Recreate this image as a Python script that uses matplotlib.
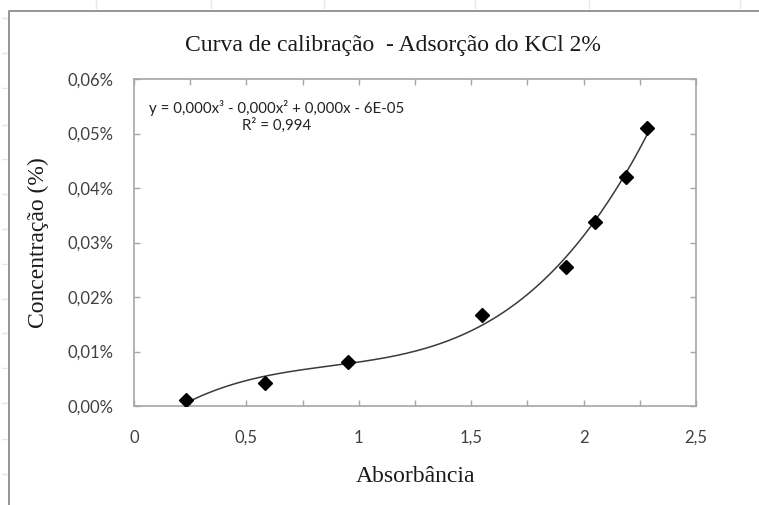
import numpy as np
import matplotlib.pyplot as plt
from matplotlib.lines import Line2D
from matplotlib.ticker import FuncFormatter, MultipleLocator

# absorbance readings and KCl concentration (%)
absorbancia = [0.231, 0.583, 0.952, 1.548, 1.922, 2.050, 2.190, 2.280]
concentracao = [0.0011, 0.0042, 0.0081, 0.0167, 0.0255, 0.0338, 0.0420, 0.0510]

titulo = 'Curva de calibração  - Adsorção do KCl 2%'
eq_texto = 'y = 0,000x³ - 0,000x² + 0,000x - 6E-05\nR² = 0,994'

W, H = 759, 505
fig = plt.figure(figsize=(W / 100, H / 100), dpi=100)
fig.patch.set_facecolor('white')

# faint spreadsheet marks behind the chart object
for xp in [96, 211, 324, 475, 589, 740]:
    fig.add_artist(Line2D([xp / W, xp / W], [1, 1 - 8 / H], color='#e6e6e6', lw=1))
for yp in [18, 53, 88, 125, 159, 194, 229, 264, 299, 333, 368, 403, 439, 474]:
    fig.add_artist(Line2D([2 / W, 7 / W], [1 - yp / H, 1 - yp / H], color='#e6e6e6', lw=1))

# chart area border (only top and left visible)
fig.add_artist(Line2D([9 / W, 9 / W, 1], [0, 1 - 11 / H, 1 - 11 / H], color='#8c8c8c', lw=1.3))

ax = fig.add_axes([134 / W, 1 - 406 / H, (696 - 134) / W, (406 - 79) / H])

# cubic trendline like Excel
coef = np.polyfit(absorbancia, concentracao, 3)
xs = np.linspace(min(absorbancia), max(absorbancia), 300)
ax.plot(xs, np.polyval(coef, xs), color='#3a3a3a', lw=1.1, zorder=2)
ax.plot(absorbancia, concentracao, linestyle='none', marker='D', markersize=7.6,
        color='black', zorder=3)

ax.set_xlim(0, 2.5)
ax.set_ylim(0, 0.06)
ax.xaxis.set_major_locator(MultipleLocator(0.5))
ax.xaxis.set_minor_locator(MultipleLocator(0.25))
ax.yaxis.set_major_locator(MultipleLocator(0.01))
ax.xaxis.set_major_formatter(FuncFormatter(lambda v, p: ('%g' % v).replace('.', ',')))
ax.yaxis.set_major_formatter(FuncFormatter(lambda v, p: ('%.2f%%' % v).replace('.', ',')))

for s in ax.spines.values():
    s.set_color('#a6a6a6')
    s.set_linewidth(1.2)
ax.tick_params(which='both', direction='in', top=True, right=True, length=4,
               width=1, color='#a6a6a6', labelcolor='#404040')
ax.tick_params(axis='x', which='major', pad=17)
ax.tick_params(axis='y', which='major', pad=15, labelright=False)
for lab in ax.get_xticklabels() + ax.get_yticklabels():
    lab.set_fontfamily('Lato')
    lab.set_fontsize(12)

ax.text(0.253, 0.885, eq_texto, transform=ax.transAxes, ha='center', va='center',
        fontsize=10.8, family='Lato', color='#222222', linespacing=1.15)

fig.text(393 / W, 1 - 46 / H, titulo, ha='center', va='center',
         family='Liberation Serif', fontsize=17, color='#1a1a1a')
fig.text(416 / W, 1 - 477 / H, 'Absorbância', ha='center', va='center',
         family='Liberation Serif', fontsize=17, color='#1a1a1a')
fig.text(38 / W, 1 - 243 / H, 'Concentração (%)', ha='center', va='center',
         rotation=90, family='Liberation Serif', fontsize=17, color='#1a1a1a')

fig.savefig('out.png', dpi=100)
